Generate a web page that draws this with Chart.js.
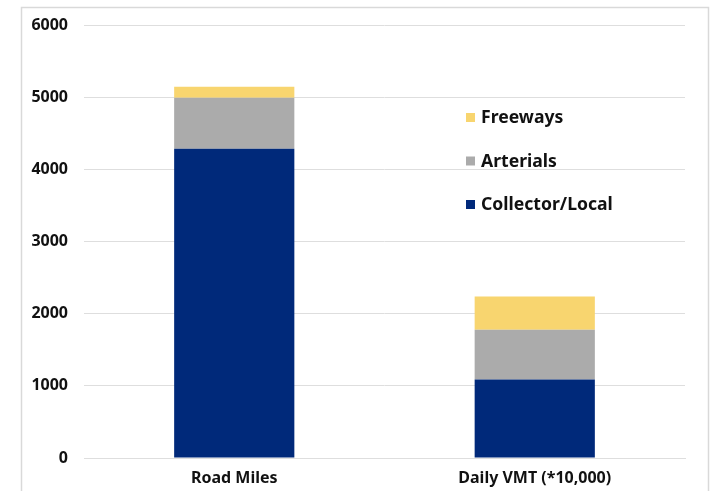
<!DOCTYPE html>
<html>
<head>
<meta charset="utf-8">
<script src="https://cdn.jsdelivr.net/npm/chart.js@4.4.1/dist/chart.umd.min.js"></script>
<style>
  html, body { margin: 0; padding: 0; background: #ffffff; }
  #wrap { position: relative; width: 712px; height: 491px; }
</style>
</head>
<body>
<div id="wrap"><canvas id="chart" width="712" height="491"></canvas></div>
<script>
// Road network composition by functional class
const categories = ['Road Miles', 'Daily VMT (*10,000)'];
const collectorLocal = [4290, 1090];
const arterials = [710, 690];
const freeways = [150, 460];
const yTicks = [0, 1000, 2000, 3000, 4000, 5000, 6000];

const COLORS = {
  collector: '#00297A',
  arterial: '#ABABAB',
  freeway: '#F8D56F',
  grid: '#DEDEDE',
  text: '#111111'
};
const FONT = '"Noto Sans", "Liberation Sans", sans-serif';

// Outer frame around the plot
const framePlugin = {
  id: 'frame',
  beforeDraw(chart) {
    const ctx = chart.ctx;
    ctx.save();
    ctx.strokeStyle = '#D9D9D9';
    ctx.lineWidth = 1.5;
    ctx.strokeRect(21.5, 7.5, 687, 500);
    ctx.restore();
  }
};

// Legend drawn inside the plot, top series first
const insideLegend = {
  id: 'insideLegend',
  afterDraw(chart) {
    const ctx = chart.ctx;
    const items = chart.data.datasets.slice().reverse();
    const x = 466, box = 9;
    const baselines = [123, 166.5, 210];
    ctx.save();
    ctx.font = 'bold 17.6px ' + FONT;
    ctx.textBaseline = 'alphabetic';
    ctx.textAlign = 'left';
    items.forEach((ds, i) => {
      const b = baselines[i];
      ctx.fillStyle = ds.backgroundColor;
      ctx.fillRect(x, b - 10, box, box);
      ctx.fillStyle = COLORS.text;
      ctx.fillText(ds.label, x + 15, b);
    });
    ctx.restore();
  }
};

new Chart(document.getElementById('chart'), {
  type: 'bar',
  data: {
    labels: categories,
    datasets: [
      { label: 'Collector/Local', data: collectorLocal, backgroundColor: COLORS.collector },
      { label: 'Arterials', data: arterials, backgroundColor: COLORS.arterial },
      { label: 'Freeways', data: freeways, backgroundColor: COLORS.freeway }
    ]
  },
  options: {
    responsive: false,
    animation: false,
    layout: { padding: { left: 0, right: 27, top: 23, bottom: 0 } },
    datasets: { bar: { categoryPercentage: 0.8, barPercentage: 0.5, borderWidth: 0 } },
    plugins: {
      legend: { display: false },
      tooltip: { enabled: false },
      title: { display: false }
    },
    scales: {
      x: {
        stacked: true,
        grid: { display: false, drawTicks: false },
        border: { display: true, color: COLORS.grid, width: 1 },
        ticks: {
          color: COLORS.text,
          font: { family: FONT, size: 16, weight: 'bold' },
          padding: 11
        },
        afterFit(scale) { scale.height = 33; }
      },
      y: {
        stacked: true,
        min: 0,
        max: 6000,
        afterBuildTicks(scale) { scale.ticks = yTicks.map(v => ({ value: v })); },
        grid: { color: COLORS.grid, lineWidth: 1, drawTicks: false },
        border: { display: false },
        ticks: {
          color: COLORS.text,
          font: { family: FONT, size: 16, weight: 'bold' },
          padding: 16,
          callback: v => String(v)
        },
        afterFit(scale) { scale.width = 84; }
      }
    }
  },
  plugins: [framePlugin, insideLegend]
});
</script>
</body>
</html>
